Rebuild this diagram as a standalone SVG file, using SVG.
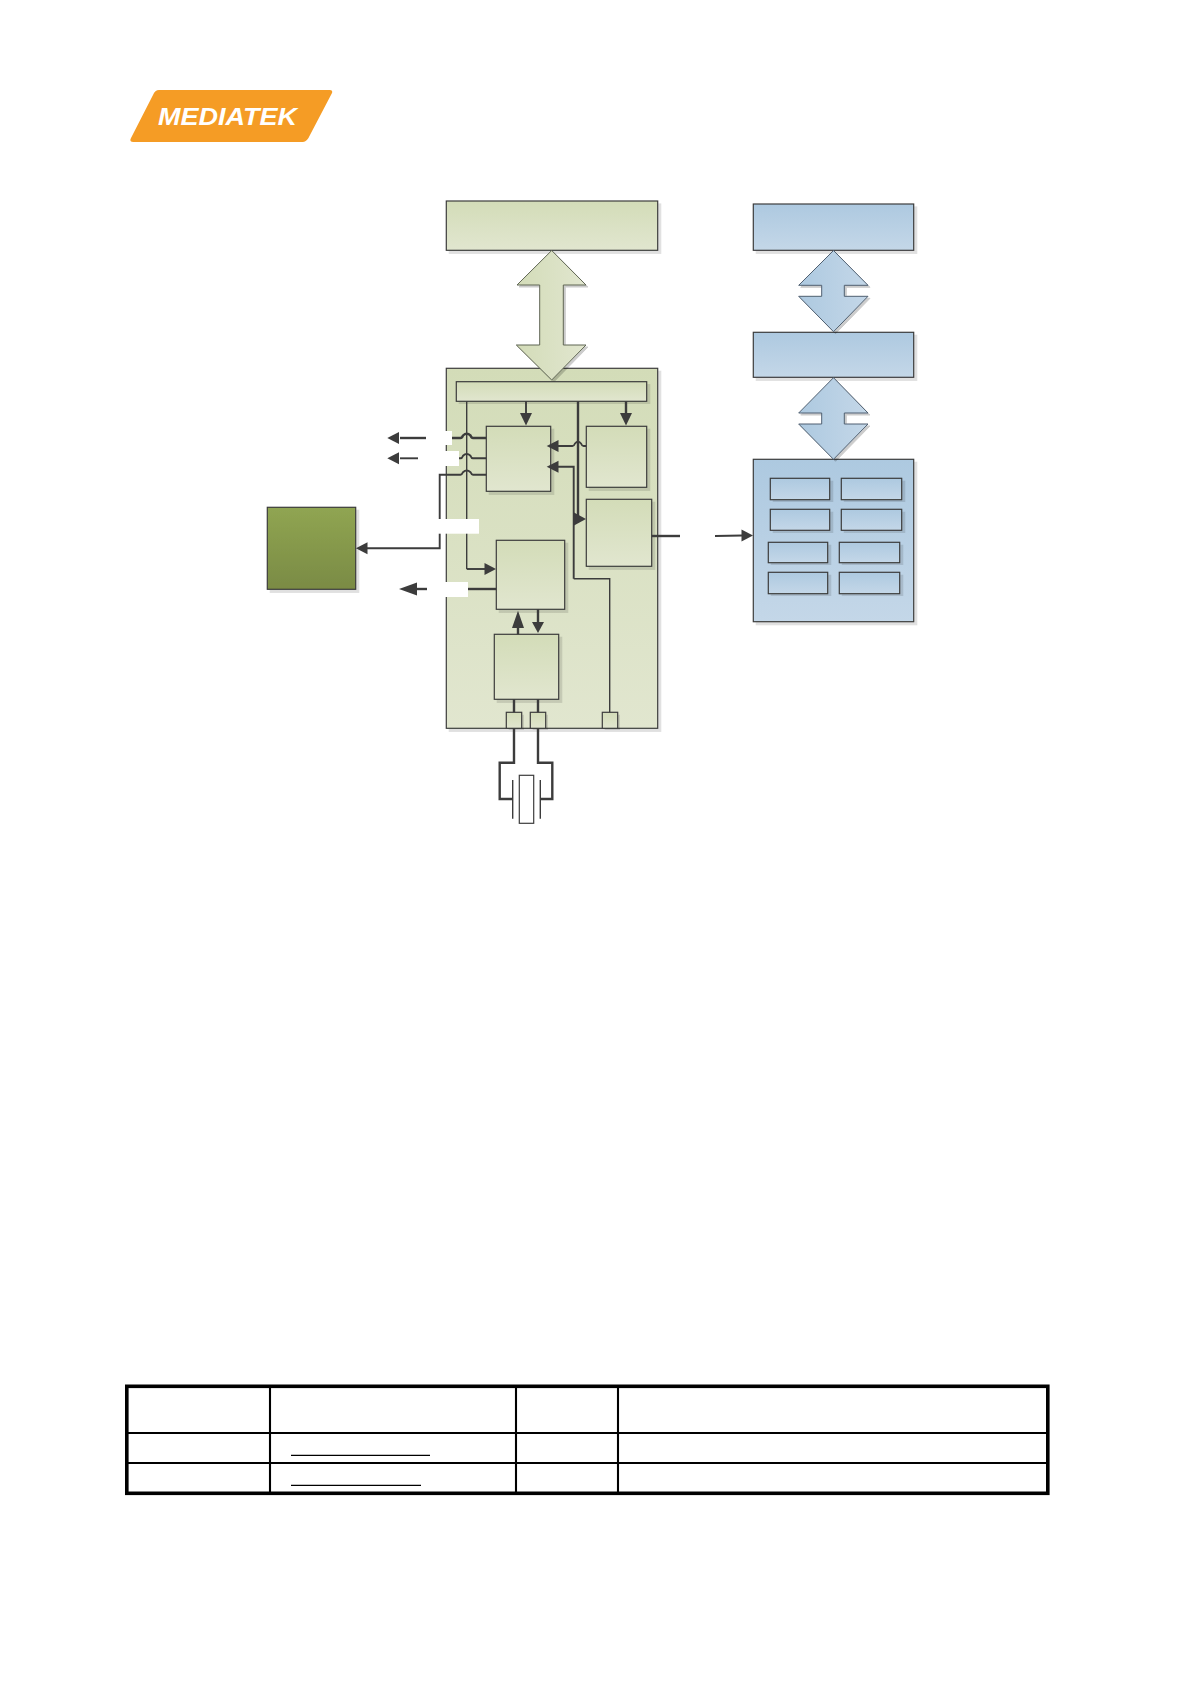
<svg xmlns="http://www.w3.org/2000/svg" width="1190" height="1684" viewBox="0 0 1190 1684">
<style>
.g{fill:url(#gv);stroke:#3c3c3c;stroke-width:1.2;filter:url(#sh)}
.b{fill:url(#bv);stroke:#3c3c3c;stroke-width:1.2;filter:url(#sh)}
.ga{fill:url(#gh);stroke:#5f6553;stroke-width:1;filter:url(#sh2)}
.ba{fill:url(#bh);stroke:#4f5f70;stroke-width:1;filter:url(#sh2)}
.w{fill:#fff}
.l{fill:none;stroke:#3c3c3c;stroke-width:1.4}
.m{fill:none;stroke:#3c3c3c;stroke-width:1.9}
.t{fill:none;stroke:#3c3c3c;stroke-width:2.4}
.h{fill:#3c3c3c}
.tb{stroke:#000;stroke-width:2.1;fill:none}
</style>
<defs>
<linearGradient id="gv" x1="0" y1="0" x2="0" y2="1"><stop offset="0" stop-color="#d3dcb8"/><stop offset="1" stop-color="#e1e6cf"/></linearGradient>
<linearGradient id="bv" x1="0" y1="0" x2="0" y2="1"><stop offset="0" stop-color="#adc9e0"/><stop offset="1" stop-color="#c4d7e8"/></linearGradient>
<linearGradient id="gh" x1="0" y1="0" x2="1" y2="0"><stop offset="0" stop-color="#d3dcb8"/><stop offset="1" stop-color="#e1e6cf"/></linearGradient>
<linearGradient id="bh" x1="0" y1="0" x2="1" y2="0"><stop offset="0" stop-color="#adc9e0"/><stop offset="1" stop-color="#c4d7e8"/></linearGradient>
<linearGradient id="ol" x1="0" y1="0" x2="0" y2="1"><stop offset="0" stop-color="#90a552"/><stop offset="1" stop-color="#7a8b44"/></linearGradient>
<filter id="sh" x="-5%" y="-5%" width="115%" height="115%"><feDropShadow dx="3" dy="3" stdDeviation="0.3" flood-color="#000" flood-opacity="0.12"/></filter>
<filter id="sh2" x="-10%" y="-10%" width="125%" height="125%"><feDropShadow dx="2" dy="2" stdDeviation="0.6" flood-color="#000" flood-opacity="0.2"/></filter>
</defs>

<g id="logo">
<path d="M159 90H330Q333 90 332 93L310 135Q307 142 303 142H133Q129 142 131 138L153 95Q155 90 159 90Z" fill="#f59c25"/>
<text x="158" y="125" font-family="'Liberation Sans',sans-serif" font-size="23.500" font-weight="bold" font-style="italic" fill="#fff" textLength="139" lengthAdjust="spacingAndGlyphs">MEDIATEK</text>
</g>

<g id="top-green"><rect class="g" x="446.300" y="201" width="211.400" height="49.300"/></g>
<g id="main-green"><rect class="g" x="446.300" y="368.300" width="211.400" height="360"/></g>
<g id="green-arrow"><path class="ga" d="M551.700 250.500L586 285H563.300V345H586L551.700 380L516.300 345H539.700V285H517Z"/></g>
<g id="bus"><rect class="g" x="456.300" y="381.700" width="190.400" height="19.600"/></g>
<g id="block-a"><rect class="g" x="486.300" y="426.300" width="64.400" height="65"/></g>
<g id="block-b"><rect class="g" x="586.300" y="426.300" width="60.400" height="61"/></g>
<g id="block-c"><rect class="g" x="586.300" y="499.300" width="65.400" height="67"/></g>
<g id="block-d"><rect class="g" x="496.300" y="540.300" width="68.400" height="69"/></g>
<g id="block-e"><rect class="g" x="494.300" y="634.300" width="64.400" height="65"/></g>
<g id="pad-1"><rect class="g" x="506.300" y="712.300" width="15.400" height="16"/></g>
<g id="pad-2"><rect class="g" x="530.300" y="712.300" width="15.400" height="16"/></g>
<g id="pad-3"><rect class="g" x="602.300" y="712.300" width="15.400" height="16"/></g>
<g id="olive"><rect x="267.300" y="507.300" width="88.400" height="82" fill="url(#ol)" stroke="#3c3c3c" stroke-width="1.200" filter="url(#sh)"/></g>

<g id="blue-1"><rect class="b" x="753.300" y="204" width="160.400" height="46.300"/></g>
<g id="blue-2"><rect class="b" x="753.300" y="332.300" width="160.400" height="45"/></g>
<g id="blue-3"><rect class="b" x="753.300" y="459.300" width="160.400" height="162.400"/></g>
<g id="blue-arrow-1"><path class="ba" d="M833.500 250.500L868 285.300H844.300V296.300H868L833.500 331.700L798.700 296.300H821.700V285.300H798.700Z"/></g>
<g id="blue-arrow-2"><path class="ba" d="M833.500 377.700L868 413H844.300V424H868L833.500 459.300L798.700 424H821.700V413H798.700Z"/></g>
<g id="cell-1"><rect class="b" x="770.300" y="478.300" width="59.400" height="21.400"/></g>
<g id="cell-2"><rect class="b" x="841.300" y="478.300" width="60.400" height="21.400"/></g>
<g id="cell-3"><rect class="b" x="770.300" y="509.300" width="59.400" height="21"/></g>
<g id="cell-4"><rect class="b" x="841.300" y="509.300" width="60.400" height="21"/></g>
<g id="cell-5"><rect class="b" x="768.300" y="542.300" width="59.400" height="20.400"/></g>
<g id="cell-6"><rect class="b" x="839.300" y="542.300" width="60.400" height="20.400"/></g>
<g id="cell-7"><rect class="b" x="768.300" y="572.300" width="59.400" height="21.400"/></g>
<g id="cell-8"><rect class="b" x="839.300" y="572.300" width="60.400" height="21.400"/></g>

<g id="connectors">
<path class="l" d="M466.700 401.300V569"/>
<path class="m" d="M466.700 569H486"/><path class="h" d="M496 569L484.500 563V575Z"/>
<path class="m" d="M526 401.300V414"/><path class="h" d="M526 425.500L520 413H532Z"/>
<path class="t" d="M626 401.300V414"/><path class="h" d="M626 425.500L620 413H632Z"/>
<path class="t" d="M578 401.300V519"/>
<path class="m" d="M573.700 519H578"/><path class="h" d="M586 519L574 512.500V525.500Z"/>
<path class="l" d="M609.700 712.300V578.700H573.700"/><path class="m" d="M573.700 578.700V466.700H556"/><path class="h" d="M546.700 466.700L558.500 460.700V472.700Z"/>
<path class="m" d="M586.300 446H583.500Q582 446 581 443.500Q578 440 575 443.500Q574 446 572.500 446H556"/><path class="h" d="M546.700 446L558.500 440V452Z"/>

<path class="t" d="M486.300 438H473Q471.500 438 470.500 435.500Q466.700 432 463 435.500Q462 438 460.500 438H452"/>
<path class="t" d="M426 438H400"/><path class="h" d="M387.300 438L399 432V444Z"/>
<path class="m" d="M486.300 458.300H473Q471.500 458.300 470.500 455.800Q466.700 452.300 463 455.800Q462 458.300 460.500 458.300H459"/>
<path class="m" d="M418 458.300H400"/><path class="h" d="M387.300 458.300L399 452.300V464.300Z"/>
<path class="m" d="M486.300 474.700H473Q471.500 474.700 470.500 472.200Q466.700 468.700 463 472.200Q462 474.700 460.500 474.700H439.700V548.300H366"/><path class="h" d="M355.900 548.300L367.500 542.300V554.300Z"/>
<path class="t" d="M496.300 589H468"/><path class="t" d="M427 589H415"/><path class="h" d="M399 589L417 582.500V595.500Z"/>
<path class="t" d="M651.700 536H680"/><path class="m" d="M715 536L742 535.500"/><path class="h" d="M753 535.500L741.500 529.500V541.500Z"/>
<path class="t" d="M518 634.300V625"/><path class="h" d="M518 610.700L512 628H524Z"/>
<path class="t" d="M538 609.300V623"/><path class="h" d="M538 633L532 622H544Z"/>
<path class="t" d="M514 699.300V712.300M538 699.300V712.300"/>
<path class="t" d="M514 728.300V762.700H499.700V799H512.700M538 728.300V762.700H552.300V799H540"/>
<path class="l" d="M512.700 780V818.700M540.300 780V818.700"/>
<rect x="519.300" y="775.300" width="14.400" height="48" fill="#fff" stroke="#3c3c3c" stroke-width="1.200"/>
</g>

<g id="label-masks">
<rect class="w" x="426" y="431" width="26" height="14"/>
<rect class="w" x="418" y="451" width="41" height="15"/>
<rect class="w" x="436" y="519" width="43" height="14.700"/>
<rect class="w" x="427" y="582" width="41" height="15"/>
<rect class="w" x="680" y="528" width="35" height="16"/>
</g>

<g id="table">
<rect x="126.800" y="1386.300" width="921" height="107" fill="none" stroke="#000" stroke-width="3.600"/>
<path class="tb" d="M270 1386V1493M516 1386V1493M618 1386V1493M127 1433H1047M127 1463H1047"/>
<path d="M291 1455.300H430M291 1485.300H421" stroke="#000" stroke-width="1.300" fill="none"/>
</g>
</svg>
